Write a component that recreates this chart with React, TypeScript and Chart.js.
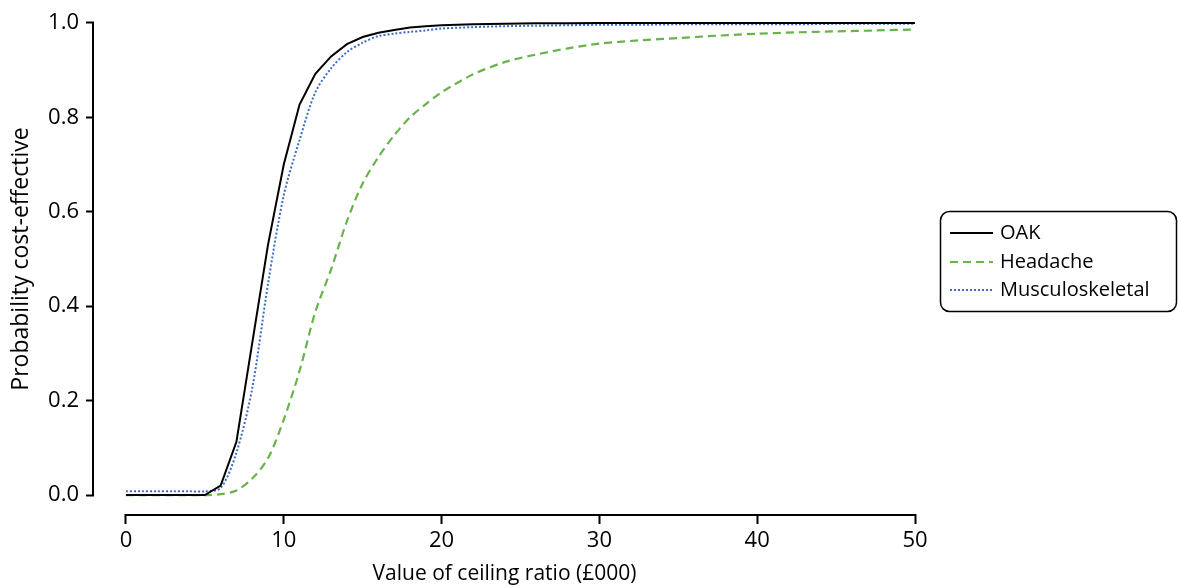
import React, { useEffect, useRef } from 'react';
import { Chart, registerables } from 'chart.js';

Chart.register(...registerables);

// Ceiling ratio (£000)
const xValues = [0, 1, 2, 3, 4, 5, 6, 7, 8, 9, 10, 11, 12, 13, 14, 15, 16, 17, 18, 19, 20, 22, 24, 26, 28, 30, 32.5, 35, 37.5, 40, 42.5, 45, 47.5, 50];

const oakValues = [0, 0, 0, 0, 0, 0, 0.02, 0.113, 0.322, 0.53, 0.70, 0.827, 0.892, 0.929, 0.955, 0.970, 0.979, 0.985, 0.99, 0.993, 0.995, 0.997, 0.998, 0.999, 0.999, 1.0, 1.0, 1.0, 1.0, 1.0, 1.0, 1.0, 1.0, 1.0];

const headacheValues = [0, 0, 0, 0, 0, 0, 0.002, 0.01, 0.035, 0.078, 0.16, 0.263, 0.388, 0.478, 0.58, 0.66, 0.716, 0.762, 0.80, 0.828, 0.853, 0.891, 0.917, 0.933, 0.946, 0.956, 0.963, 0.968, 0.973, 0.977, 0.98, 0.982, 0.984, 0.986];

const musculoValues = [0.008, 0.008, 0.008, 0.008, 0.008, 0.008, 0.015, 0.09, 0.226, 0.447, 0.635, 0.752, 0.853, 0.904, 0.938, 0.958, 0.972, 0.977, 0.981, 0.984, 0.988, 0.991, 0.993, 0.994, 0.995, 0.996, 0.996, 0.997, 0.997, 0.997, 0.997, 0.998, 0.998, 0.998];

const seriesNames = ['OAK', 'Headache', 'Musculoskeletal'];
const xTicks = [0, 10, 20, 30, 40, 50];
const yTicks = [0, 0.2, 0.4, 0.6, 0.8, 1.0];
const xTitle = 'Value of ceiling ratio (£000)';
const yTitle = 'Probability cost-effective';

const FONT = '"Open Sans", sans-serif';

export default function App() {
  const canvasRef = useRef<HTMLCanvasElement | null>(null);

  useEffect(() => {
    document.body.style.margin = '0';
    const canvas = canvasRef.current;
    if (!canvas) return;

    const toPoints = (vals: number[]) => xValues.map((x, i) => ({ x, y: vals[i] }));

    const detachedAxes = {
      id: 'detachedAxes',
      afterDraw(chart: any) {
        const { ctx, chartArea, scales } = chart;
        const x = scales.x;
        const y = scales.y;
        ctx.save();
        ctx.strokeStyle = '#000';
        ctx.lineWidth = 2;
        ctx.beginPath();
        ctx.moveTo(x.getPixelForValue(xTicks[0]) - 1, chartArea.bottom + 1);
        ctx.lineTo(x.getPixelForValue(xTicks[xTicks.length - 1]) + 1, chartArea.bottom + 1);
        ctx.moveTo(chartArea.left - 1, y.getPixelForValue(yTicks[0]) + 1);
        ctx.lineTo(chartArea.left - 1, y.getPixelForValue(yTicks[yTicks.length - 1]) - 1);
        ctx.stroke();
        ctx.restore();
      },
    };

    const boxLegend = {
      id: 'boxLegend',
      afterDraw(chart: any) {
        const ctx = chart.ctx;
        const bx = 940.5, by = 211.5, bw = 236, bh = 100, r = 9;
        ctx.save();
        ctx.strokeStyle = '#000';
        ctx.lineWidth = 1.5;
        ctx.beginPath();
        ctx.moveTo(bx + r, by);
        ctx.lineTo(bx + bw - r, by);
        ctx.arcTo(bx + bw, by, bx + bw, by + r, r);
        ctx.lineTo(bx + bw, by + bh - r);
        ctx.arcTo(bx + bw, by + bh, bx + bw - r, by + bh, r);
        ctx.lineTo(bx + r, by + bh);
        ctx.arcTo(bx, by + bh, bx, by + bh - r, r);
        ctx.lineTo(bx, by + r);
        ctx.arcTo(bx, by, bx + r, by, r);
        ctx.closePath();
        ctx.stroke();

        const rows = [233, 262, 290];
        chart.data.datasets.forEach((ds: any, i: number) => {
          const yy = rows[i];
          ctx.strokeStyle = ds.borderColor;
          ctx.lineWidth = ds.borderWidth;
          ctx.setLineDash(ds.borderDash || []);
          ctx.beginPath();
          ctx.moveTo(950, yy);
          ctx.lineTo(993, yy);
          ctx.stroke();
          ctx.setLineDash([]);
          ctx.fillStyle = '#000';
          ctx.font = `20px ${FONT}`;
          ctx.textAlign = 'left';
          ctx.textBaseline = 'middle';
          ctx.fillText(ds.label, 1000, yy);
        });
        ctx.restore();
      },
    };

    const chart = new Chart(canvas, {
      type: 'line',
      data: {
        datasets: [
          {
            label: seriesNames[0],
            data: toPoints(oakValues),
            borderColor: '#000000',
            borderWidth: 2,
            pointRadius: 0,
            tension: 0,
            fill: false,
          },
          {
            label: seriesNames[1],
            data: toPoints(headacheValues),
            borderColor: '#66b44a',
            borderWidth: 2.2,
            borderDash: [8, 5],
            pointRadius: 0,
            tension: 0.3,
            fill: false,
          },
          {
            label: seriesNames[2],
            data: toPoints(musculoValues),
            borderColor: '#3d6cc2',
            borderWidth: 2,
            borderDash: [2, 2],
            pointRadius: 0,
            tension: 0.3,
            fill: false,
          },
        ],
      },
      options: {
        animation: false,
        responsive: false,
        events: [],
        layout: { padding: { top: 4, right: 264, bottom: 0, left: 0 } },
        plugins: {
          legend: { display: false },
          tooltip: { enabled: false },
        },
        scales: {
          x: {
            type: 'linear',
            min: -50 * 32 / 790,
            max: 50,
            afterBuildTicks: (scale: any) => {
              scale.ticks = xTicks.map((v) => ({ value: v }));
            },
            afterFit: (scale: any) => {
              scale.height = 73;
              scale.paddingLeft = 0;
              scale.paddingRight = 0;
            },
            border: { display: false },
            grid: {
              drawOnChartArea: false,
              drawTicks: true,
              tickLength: 10,
              tickWidth: 2,
              tickColor: '#000',
            },
            ticks: {
              color: '#000',
              font: { family: FONT, size: 22 },
              padding: 4,
              maxRotation: 0,
              callback: (v: any) => String(v),
            },
            title: {
              display: true,
              text: xTitle,
              color: '#000',
              font: { family: FONT, size: 21 },
              padding: { top: 0, bottom: 0 },
            },
          },
          y: {
            type: 'linear',
            min: -0.04,
            max: 1.04,
            afterBuildTicks: (scale: any) => {
              scale.ticks = yTicks.map((v) => ({ value: v }));
            },
            afterFit: (scale: any) => {
              scale.width = 94;
              scale.paddingTop = 0;
              scale.paddingBottom = 0;
            },
            border: { display: false },
            grid: {
              drawOnChartArea: false,
              drawTicks: true,
              tickLength: 8,
              tickWidth: 2,
              tickColor: '#000',
            },
            ticks: {
              color: '#000',
              font: { family: FONT, size: 22 },
              padding: 7,
              callback: (v: any) => Number(v).toFixed(1),
            },
            title: {
              display: true,
              text: yTitle,
              color: '#000',
              font: { family: FONT, size: 23 },
              padding: { top: 8, bottom: 0 },
            },
          },
        },
      },
      plugins: [detachedAxes, boxLegend],
    });

    return () => chart.destroy();
  }, []);

  return (
    <div style={{ position: 'absolute', left: 0, top: 0, width: 1179, height: 587 }}>
      <canvas ref={canvasRef} width={1179} height={587} style={{ display: 'block' }} />
    </div>
  );
}
